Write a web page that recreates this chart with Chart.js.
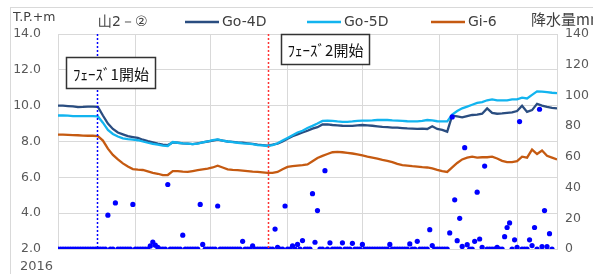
<!DOCTYPE html>
<html>
<head>
<meta charset="utf-8">
<script src="https://cdn.jsdelivr.net/npm/chart.js@4.4.0/dist/chart.umd.min.js"></script>
<style>
  html, body { margin: 0; padding: 0; background: #fff; }
</style>
</head>
<body>
<canvas id="grafico" width="593" height="274"></canvas>
<script>
// dias desde el inicio del registro (nivel cada 2 dias)
const diasNivel = [0,2,4,6,8,10,12,14,16,18,20,22,24,26,28,30,32,34,36,38,40,42,44,46,48,50,52,54,56,58,
  60,62,64,66,68,70,72,74,76,78,80,82,84,86,88,90,92,94,96,98,100,102,104,106,108,110,112,114,116,118,
  120,122,124,126,128,130,132,134,136,138,140,142,144,146,148,150,152,154,156,158,160,162,164,166,168,170,172,174,176,178,
  180,182,184,186,188,190,192,194,196,198,200];

const go4d = [10.0,10.0,9.98,9.96,9.92,9.93,9.95,9.95,9.93,9.45,
  9.0,8.7,8.5,8.4,8.3,8.25,8.2,8.1,8.02,7.95,
  7.88,7.82,7.8,7.95,7.93,7.9,7.88,7.85,7.9,7.95,
  8.0,8.05,8.1,8.05,8.0,7.98,7.95,7.93,7.9,7.87,
  7.83,7.8,7.77,7.82,7.88,8.0,8.15,8.3,8.4,8.5,
  8.6,8.72,8.8,8.95,8.95,8.92,8.9,8.88,8.87,8.87,
  8.9,8.92,8.9,8.88,8.85,8.82,8.8,8.78,8.77,8.75,
  8.73,8.72,8.7,8.72,8.7,8.85,8.7,8.65,8.55,9.45,
  9.4,9.35,9.42,9.48,9.5,9.55,9.85,9.6,9.55,9.57,
  9.6,9.62,9.7,10.0,9.65,9.75,10.1,10.0,9.93,9.88,
  9.85];

const go5d = [9.45,9.45,9.44,9.42,9.42,9.42,9.42,9.42,9.4,9.05,
  8.65,8.42,8.28,8.18,8.13,8.1,8.07,8.0,7.93,7.87,
  7.82,7.77,7.75,7.97,7.93,7.9,7.88,7.85,7.88,7.95,
  8.0,8.08,8.12,8.05,8.0,7.96,7.93,7.9,7.88,7.85,
  7.8,7.78,7.75,7.8,7.9,8.05,8.2,8.35,8.5,8.6,
  8.75,8.87,9.0,9.15,9.17,9.15,9.12,9.1,9.1,9.12,
  9.15,9.17,9.17,9.18,9.2,9.2,9.2,9.18,9.17,9.15,
  9.13,9.12,9.12,9.15,9.2,9.18,9.13,9.12,9.12,9.5,
  9.7,9.85,9.95,10.05,10.15,10.2,10.3,10.35,10.3,10.3,
  10.3,10.35,10.35,10.45,10.4,10.6,10.8,10.78,10.75,10.72,
  10.7];

const gi6 = [8.38,8.38,8.37,8.36,8.35,8.33,8.32,8.32,8.3,8.05,
  7.6,7.25,7.0,6.78,6.6,6.46,6.43,6.41,6.33,6.25,
  6.2,6.12,6.13,6.35,6.35,6.32,6.3,6.35,6.4,6.45,
  6.48,6.55,6.65,6.55,6.45,6.42,6.4,6.38,6.35,6.32,
  6.3,6.28,6.25,6.25,6.3,6.45,6.58,6.62,6.65,6.68,
  6.72,6.9,7.08,7.2,7.3,7.4,7.42,7.4,7.37,7.33,
  7.28,7.22,7.15,7.1,7.05,6.97,6.92,6.85,6.75,6.68,
  6.65,6.62,6.6,6.57,6.55,6.5,6.42,6.35,6.3,6.55,
  6.8,7.0,7.1,7.15,7.1,7.12,7.12,7.15,7.05,6.92,
  6.85,6.85,6.9,7.15,7.1,7.55,7.3,7.5,7.2,7.1,
  7.0];

// precipitacion diaria (mm), dia 0..198
const lluvia = [0,0,0,0,0,0,0,0,0,0,
  0,0,0,0,0,0,0,0,0,0,
  22,0,0,30,0,0,0,0,0,0,
  29,0,0,0,0,0,0,2,4.5,2.5,
  1,0,0,0,42,0,0,0,0,0,
  9,0,0,0,0,0,0,29,3,0,
  0,0,0,0,28,0,0,0,0,0,
  0,0,0,0,5,0,0,0,2,0,
  0,0,0,0,0,0,0,13,1,0,
  0,28,0,0,2,0,3,0,5.5,0,
  0,0,36,4.4,25,0,0,51,0,4,
  0,0,0,0,4,0,0,0,3.7,0,
  0,0,3,0,0,0,0,0,0,0,
  0,0,0,3,0,0,0,0,0,0,
  0,3.3,0,0,5,0,0,0,0,12.6,
  2.2,0,0,0,0,0,0,10.5,86,32,
  5.4,20,1.7,66,2.8,0,0,5,37,6.5,
  1.1,54,0,0,0,0,1.1,0,0,8,
  14,17,0,6,1.1,83,0,0,0,6,
  2.2,14,0,91,1.5,25,1.5,10,0];

const inicioMes = [0,31,61,92,122,153,184];
const etiquetasX = ['2016','','','','','',''];
const diaFase1 = 15.6;
const diaFase2 = 84.3;

const fuente = '"DejaVu Sans", sans-serif';
const gris = '#d9d9d9';

const extras = {
    id: 'extras',
    beforeDraw(chart) {
        const ctx = chart.ctx;
        ctx.save();
        ctx.strokeStyle = gris;
        ctx.lineWidth = 1;
        ctx.strokeRect(10.5, 7.5, 700, 400);
        ctx.restore();
    },
    afterDraw(chart) {
        const { ctx, chartArea: a, scales: { x } } = chart;
        ctx.save();

        // lineas de inicio de fase
        ctx.lineWidth = 1.5;
        ctx.setLineDash([2, 2]);
        [[diaFase1, '#0000ff'], [diaFase2, '#ff3333']].forEach(([d, c]) => {
            const px = Math.round(x.getPixelForValue(d)) + 0.5;
            ctx.strokeStyle = c;
            ctx.beginPath();
            ctx.moveTo(px, a.top);
            ctx.lineTo(px, a.bottom);
            ctx.stroke();
        });
        ctx.setLineDash([]);

        // cuadros de texto
        const cuadros = [
            { t: 'ﾌｪｰｽﾞ1開始', x: 66.5, y: 57.5, w: 89, h: 31 },
            { t: 'ﾌｪｰｽﾞ2開始', x: 281.5, y: 34.5, w: 88, h: 30 }
        ];
        ctx.font = '15px "Noto Sans CJK JP"';
        ctx.textAlign = 'center';
        ctx.textBaseline = 'middle';
        cuadros.forEach(c => {
            ctx.fillStyle = '#fff';
            ctx.fillRect(c.x, c.y, c.w, c.h);
            ctx.strokeStyle = '#333';
            ctx.lineWidth = 1.5;
            ctx.strokeRect(c.x, c.y, c.w, c.h);
            ctx.fillStyle = '#111';
            ctx.fillText(c.t, c.x + c.w / 2, c.y + c.h / 2 + 1);
        });

        // titulos de ejes
        ctx.textAlign = 'left';
        ctx.fillStyle = '#404040';
        ctx.font = '12.5px ' + fuente;
        ctx.fillText('T.P.+m', 13, 18);
        ctx.font = '15px "Noto Sans CJK JP"';
        ctx.fillText('降水量mm', 531, 19);

        // leyenda
        const posX = [98, 185, 307, 431];
        ctx.font = '14px ' + fuente;
        chart.data.datasets.forEach((ds, i) => {
            let px = posX[i];
            if (ds.showLine !== false) {
                ctx.strokeStyle = ds.borderColor;
                ctx.lineWidth = 2.5;
                ctx.beginPath();
                ctx.moveTo(px, 22);
                ctx.lineTo(px + 34, 22);
                ctx.stroke();
                px += 37;
            }
            ctx.fillStyle = '#404040';
            ctx.fillText(ds.label, px, 22);
        });
        ctx.restore();
    }
};

const aPuntos = (xs, ys) => ys.map((v, i) => ({ x: xs[i], y: v }));

new Chart(document.getElementById('grafico'), {
    type: 'line',
    data: {
        datasets: [
            {
                label: '山2－②',
                data: lluvia.map((v, i) => ({ x: i, y: v })),
                yAxisID: 'y2',
                showLine: false,
                pointRadius: 2.6,
                pointBackgroundColor: '#0000ff',
                pointBorderWidth: 0,
                order: 0
            },
            {
                label: 'Go-4D',
                data: aPuntos(diasNivel, go4d),
                borderColor: '#2a4d80',
                borderWidth: 2.3,
                pointRadius: 0,
                order: 2
            },
            {
                label: 'Go-5D',
                data: aPuntos(diasNivel, go5d),
                borderColor: '#12b4ef',
                borderWidth: 2.3,
                pointRadius: 0,
                order: 1
            },
            {
                label: 'Gi-6',
                data: aPuntos(diasNivel, gi6),
                borderColor: '#c55a11',
                borderWidth: 2.3,
                pointRadius: 0,
                order: 3
            }
        ]
    },
    options: {
        responsive: false,
        animation: false,
        events: [],
        layout: { padding: { top: 34, left: 0, right: 0, bottom: 0 } },
        plugins: { legend: { display: false }, tooltip: { enabled: false } },
        scales: {
            x: {
                type: 'linear',
                min: 0,
                max: 200,
                afterBuildTicks: s => { s.ticks = inicioMes.map(v => ({ value: v })); },
                afterFit: s => { s.height = 25; },
                grid: { color: gris, drawTicks: false },
                border: { color: gris },
                ticks: {
                    autoSkip: false,
                    maxRotation: 0,
                    align: 'end',
                    labelOffset: -5,
                    padding: 10,
                    color: '#595959',
                    font: { family: fuente, size: 13 },
                    callback: (v, i) => etiquetasX[i]
                }
            },
            y: {
                position: 'left',
                min: 2,
                max: 14,
                afterFit: s => { s.width = 58; },
                grid: { color: gris, drawTicks: false },
                border: { color: gris },
                ticks: {
                    stepSize: 2,
                    padding: 17,
                    color: '#595959',
                    font: { family: fuente, size: 12.5 },
                    callback: v => v.toFixed(1)
                }
            },
            y2: {
                position: 'right',
                min: 0,
                max: 140,
                afterFit: s => { s.width = 36; },
                grid: { drawOnChartArea: false, drawTicks: false },
                border: { color: gris },
                ticks: {
                    stepSize: 20,
                    padding: 8,
                    color: '#595959',
                    font: { family: fuente, size: 12.5 }
                }
            }
        }
    },
    plugins: [extras]
});
</script>
</body>
</html>
